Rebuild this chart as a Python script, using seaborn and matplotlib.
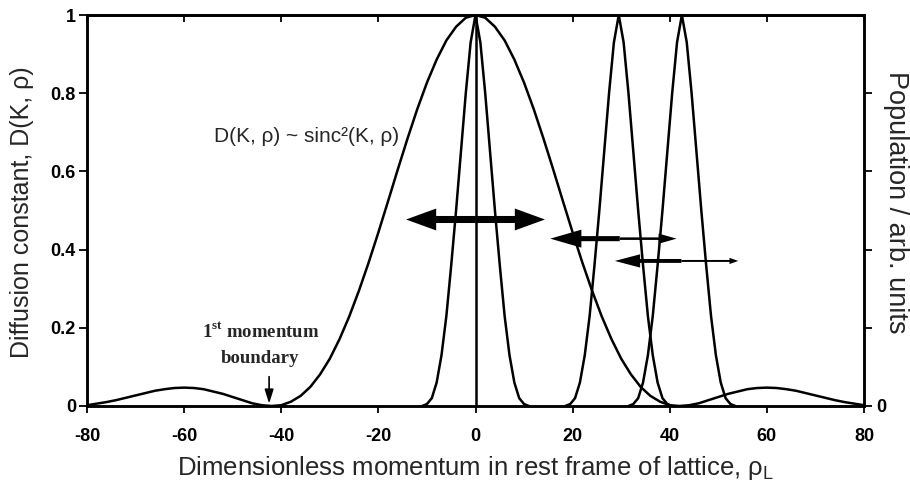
import matplotlib
matplotlib.use("Agg")
import matplotlib.pyplot as plt
from matplotlib.patches import FancyArrow
import seaborn as sns

# ---- data -------------------------------------------------------------
# Diffusion constant D(K, rho) sampled every 2 units of momentum
sinc_rho = list(range(-80, 82, 2))
sinc_half = [1.000, 0.993, 0.970, 0.935, 0.886, 0.827, 0.759, 0.684, 0.605, 0.524,
             0.444, 0.367, 0.295, 0.229, 0.171, 0.121, 0.081, 0.049, 0.026, 0.011,
             0.002, 0.000, 0.002, 0.007, 0.015, 0.023, 0.031, 0.037, 0.043, 0.046,
             0.047, 0.046, 0.043, 0.039, 0.033, 0.027, 0.021, 0.015, 0.010, 0.006,
             0.002]
sinc_D = sinc_half[:0:-1] + sinc_half

# Momentum population packets (same profile, three centres)
packet_offsets = list(range(-11, 12))
packet_profile = [0.000, 0.005, 0.020, 0.060, 0.130, 0.230, 0.360, 0.500, 0.650,
                  0.800, 0.930, 1.000, 0.930, 0.800, 0.650, 0.500, 0.360, 0.230,
                  0.130, 0.060, 0.020, 0.005, 0.000]
packet_centres = [0.0, 29.5, 42.5]

# Zero-momentum marker line
rest_rho = [0.0, 0.0]
rest_level = [0.0, 1.0]

# Diffusion arrows: (level, left tip, split point, right tip)
arrow_level = [0.477, 0.428, 0.371]
arrow_left = [-14.3, 15.4, 28.7]
arrow_split = [0.0, 29.7, 42.4]
arrow_right = [14.3, 41.4, 54.1]

boundary_rho = -42.5

x_ticks = [-80, -60, -40, -20, 0, 20, 40, 60, 80]
y_ticks = [0, 0.2, 0.4, 0.6, 0.8, 1]
y_ticklabels = ["0", "0.2", "0.4", "0.6", "0.8", "1"]

# ---- style ------------------------------------------------------------
sns.set_theme(style="ticks")
plt.rcParams["font.family"] = ["Liberation Sans", "DejaVu Sans"]
plt.rcParams["mathtext.fontset"] = "custom"
plt.rcParams["mathtext.rm"] = "Liberation Sans"
plt.rcParams["mathtext.sf"] = "Liberation Serif:bold"

fig = plt.figure(figsize=(9.1, 4.86), dpi=100)
fig.patch.set_facecolor("white")
ax = fig.add_axes([87 / 910, 1 - 406 / 486, 777 / 910, 391 / 486])
ax.set_facecolor("white")

lw = 1.8
sns.lineplot(x=sinc_rho, y=sinc_D, ax=ax, color="black", lw=lw,
             estimator=None, sort=False)
for c in packet_centres:
    xs = [c + d for d in packet_offsets]
    sns.lineplot(x=xs, y=packet_profile, ax=ax, color="black", lw=lw,
                 estimator=None, sort=False)
sns.lineplot(x=rest_rho, y=rest_level, ax=ax, color="black", lw=lw,
             estimator=None, sort=False)

# arrow styles per row: (left shaft, left head w, left head len, right shaft, right head w, right head len)
arrow_styles = [
    (0.018, 0.056, 6.2, 0.018, 0.056, 6.2),
    (0.013, 0.046, 6.4, 0.0065, 0.026, 3.7),
    (0.010, 0.034, 5.2, 0.005, 0.016, 1.8),
]
for yv, xl, xs_, xr, st in zip(arrow_level, arrow_left, arrow_split, arrow_right, arrow_styles):
    ax.add_patch(FancyArrow(xs_, yv, xl - xs_, 0, width=st[0], head_width=st[1],
                            head_length=st[2], length_includes_head=True,
                            color="black", lw=0))
    ax.add_patch(FancyArrow(xs_, yv, xr - xs_, 0, width=st[3], head_width=st[4],
                            head_length=st[5], length_includes_head=True,
                            color="black", lw=0))

# annotations
ax.text(-34.8, 0.688, "D(K, ρ) ~ sinc²(K, ρ)", ha="center", va="center", fontsize=15)
ax.text(-44.3, 0.189, r"1$^{\mathsf{st}}$ momentum", ha="center", va="center",
        fontsize=13.5, family="Liberation Serif", fontweight="bold")
ax.text(-44.3, 0.122, "boundary", ha="center", va="center",
        fontsize=13.5, family="Liberation Serif", fontweight="bold")
ax.annotate("", xy=(boundary_rho, 0.006), xytext=(boundary_rho, 0.075),
            arrowprops=dict(arrowstyle="-|>,head_length=0.7,head_width=0.22",
                            color="black", lw=1.2, shrinkA=0, shrinkB=0))

# axes
ax.set_xlim(-80, 80)
ax.set_ylim(0, 1)
ax.set_xticks(x_ticks)
ax.set_xticklabels([str(v) for v in x_ticks], fontsize=13, fontweight="bold")
ax.set_yticks(y_ticks)
ax.set_yticklabels(y_ticklabels, fontsize=13, fontweight="bold")
ax.tick_params(axis="x", direction="out", length=5, width=1.3, pad=11, colors="black")
ax.tick_params(axis="y", direction="out", length=6, width=1.3, pad=2, colors="black")
for s in ax.spines.values():
    s.set_linewidth(1.8)
    s.set_color("black")
    s.set_visible(True)

top = ax.secondary_xaxis("top")
top.set_xticks(x_ticks)
top.tick_params(direction="in", length=5, width=1.3, labeltop=False, colors="black")
top.spines["top"].set_linewidth(1.8)

ax2 = ax.twinx()
ax2.set_ylim(0, 1)
ax2.set_yticks([0, 0.2, 0.4, 0.6, 0.8])
ax2.set_yticklabels(["0", "", "", "", ""], fontsize=13, fontweight="bold")
ax2.tick_params(axis="y", direction="out", length=6, width=1.3, pad=3, colors="black")
for s in ax2.spines.values():
    s.set_linewidth(1.8)
    s.set_color("black")

ax.set_xlabel("Dimensionless momentum in rest frame of lattice, ρ$_{\\mathrm{L}}$", fontsize=18.5)
ax.xaxis.label.set_va("baseline")
ax.xaxis.set_label_coords(0.5, -0.177)
ax.set_ylabel("Diffusion constant, D(K, ρ)", fontsize=18)
ax.yaxis.label.set_va("center")
ax.yaxis.set_label_coords(-0.084, 0.495)
ax2.set_ylabel("Population / arb. units", fontsize=19.5, rotation=270)
ax2.yaxis.label.set_va("center")
ax2.yaxis.set_label_coords(1.041, 0.52)

fig.savefig("out.png", dpi=100, facecolor="white")
